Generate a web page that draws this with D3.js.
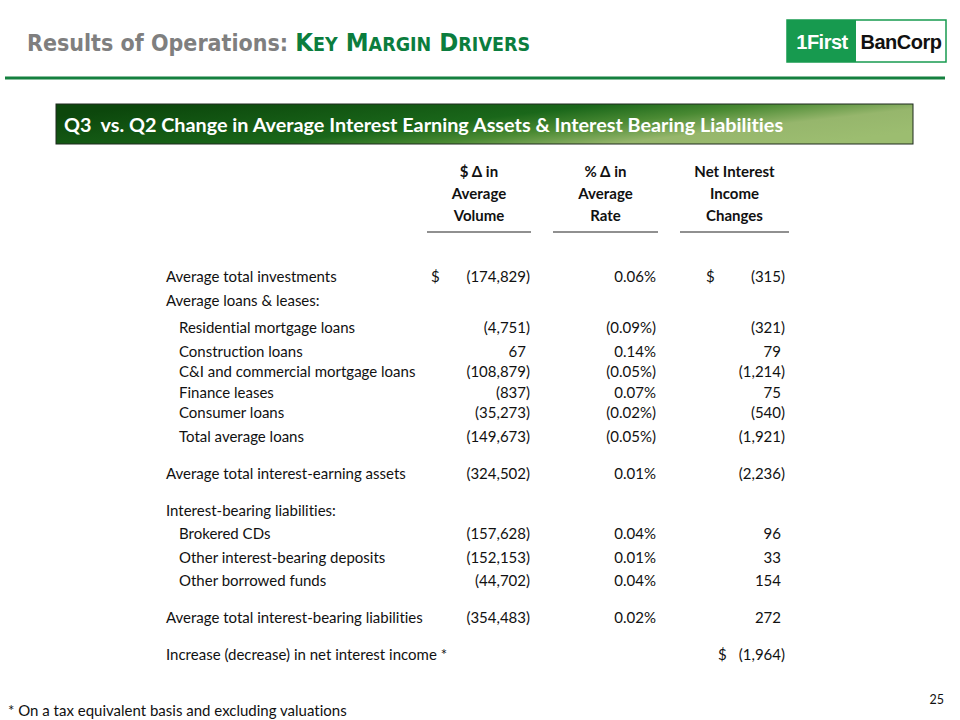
<!DOCTYPE html>
<html><head><meta charset="utf-8">
<script src="https://cdn.jsdelivr.net/npm/d3@7"></script>
<style>body{margin:0;background:#fff}svg{display:block}text{font-variant-ligatures:none;font-feature-settings:"liga" 0;white-space:pre}</style>
</head><body>
<svg id="c" width="960" height="720"></svg>
<script>
// ---- data ----
const titleMain = "Results of Operations: ";
const titleCaps = "Key Margin Drivers";
const bannerText = "Q3  vs. Q2 Change in Average Interest Earning Assets & Interest Bearing Liabilities";
const headers = [
  ["$ \u0394 in", "Average", "Volume"],
  ["% \u0394 in", "Average", "Rate"],
  ["Net Interest", "Income", "Changes"]
];
const labels = [
  "Average total investments", "Average loans & leases:", "Residential mortgage loans",
  "Construction loans", "C&I and commercial mortgage loans", "Finance leases", "Consumer loans",
  "Total average loans", "Average total interest-earning assets", "Interest-bearing liabilities:",
  "Brokered CDs", "Other interest-bearing deposits", "Other borrowed funds",
  "Average total interest-bearing liabilities", "Increase (decrease) in net interest income *"
];
const indented = [0,0,1,1,1,1,1,1,0,0,1,1,1,0,0];
const volume = [-174829, null, -4751, 67, -108879, -837, -35273, -149673, -324502, null, -157628, -152153, -44702, -354483, null];
const rate = [0.06, null, -0.09, 0.14, -0.05, 0.07, -0.02, -0.05, 0.01, null, 0.04, 0.01, 0.04, 0.02, null];
const nii = [-315, null, -321, 79, -1214, 75, -540, -1921, -2236, null, 96, 33, 154, 272, -1964];
const dollarVolume = [1,0,0,0,0,0,0,0,0,0,0,0,0,0,0];
const dollarNii = [1,0,0,0,0,0,0,0,0,0,0,0,0,0,1];
const footnote = "* On a tax equivalent basis and excluding valuations";
const pageNo = "25";

// ---- layout ----
const svg = d3.select("#c");
const body = "Lato, 'Open Sans', sans-serif";
const rowGaps = [0,24,27,24,20,21,20,24,37,37,23,24,23,37,37];
let acc = 0; const yPos = rowGaps.map(g => (acc += g));
const y = i => 282 + yPos[i];

// defs
const defs = svg.append("defs");
const grad = defs.append("linearGradient").attr("id","bg").attr("x1","0").attr("y1","0.3").attr("x2","1").attr("y2","0.7");
[[0,"#0c470c"],[0.45,"#1a671a"],[0.62,"#4a8a33"],[0.8,"#96b66c"],[1,"#9cbd70"]].forEach(([o,c])=>grad.append("stop").attr("offset",o).attr("stop-color",c));

// title
const t = svg.append("text").attr("x",27).attr("y",51).attr("font-family","'DejaVu Sans Condensed', 'DejaVu Sans', sans-serif").attr("font-weight","bold");
t.append("tspan").attr("fill","#7f7f7f").attr("font-size",23).text(titleMain);
titleCaps.split(" ").forEach((w,i)=>{
  t.append("tspan").attr("fill","#0b7d3e").attr("font-size",25.5).text((i?" ":"")+w[0].toUpperCase());
  t.append("tspan").attr("fill","#0b7d3e").attr("font-size",19.5).text(w.slice(1).toUpperCase());
});

// logo
svg.append("rect").attr("x",787).attr("y",20).attr("width",159).attr("height",42).attr("fill","#fff").attr("stroke","#179a4f").attr("stroke-width",1.5);
svg.append("rect").attr("x",787).attr("y",20).attr("width",69).attr("height",42).attr("fill","#179a4f");
svg.append("text").attr("x",822).attr("y",49).attr("text-anchor","middle").attr("font-family","'Liberation Sans', Arial, sans-serif").attr("font-weight","bold").attr("font-size",20).attr("fill","#fff").attr("letter-spacing",-0.5).text("1First");
svg.append("text").attr("x",901).attr("y",49).attr("text-anchor","middle").attr("font-family","'Liberation Sans', Arial, sans-serif").attr("font-weight","bold").attr("font-size",20).attr("fill","#111").attr("letter-spacing",-0.5).text("BanCorp");

// rule
svg.append("line").attr("x1",5).attr("x2",945).attr("y1",78).attr("y2",78).attr("stroke","#15803f").attr("stroke-width",3);

// banner
svg.append("rect").attr("x",56).attr("y",104).attr("width",857).attr("height",40).attr("fill","url(#bg)").attr("stroke","#1e2b1e").attr("stroke-width",1);
svg.append("text").attr("x",64).attr("y",131.5).attr("font-family",body).attr("font-weight","bold").attr("font-size",19.8).attr("fill","#fff").text(bannerText);

// columns
const colX = d3.scaleOrdinal().domain([0,1,2]).range([479,605.5,734.5]);
const colRight = d3.scaleOrdinal().domain([0,1,2]).range([530,656,785]);
const colW = [104,105,109];
const hdr = svg.append("g").attr("font-family",body).attr("font-weight","bold").attr("font-size",15).attr("fill","#111");
headers.forEach((lines,c)=>{
  lines.forEach((l,i)=> hdr.append("text").attr("x",colX(c)).attr("y",177+i*22).attr("text-anchor","middle").text(l));
  hdr.append("line").attr("x1",colX(c)-colW[c]/2).attr("x2",colX(c)+colW[c]/2).attr("y1",232).attr("y2",232).attr("stroke","#222").attr("stroke-width",1.2);
});

const fmtInt = d3.format(",");
const g = svg.append("g").attr("font-family",body).attr("font-size",15).attr("fill","#111");
function num(c, i, s, pad){
  const tx = g.append("text").attr("x",colRight(c)).attr("y",y(i)).attr("text-anchor","end");
  tx.append("tspan").text(s);
  if(pad) tx.append("tspan").attr("fill-opacity",0).text(")");
}
labels.forEach((lab,i)=>{
  g.append("text").attr("x",indented[i]?179:166).attr("y",y(i)).text(lab);
  if(volume[i]!==null){
    const v=volume[i]; num(0,i, v<0?`(${fmtInt(-v)})`:fmtInt(v), v>=0);
  }
  if(rate[i]!==null){
    const r=rate[i]; num(1,i, r<0?`(${(-r).toFixed(2)}%)`:`${r.toFixed(2)}%`, false);
  }
  if(nii[i]!==null){
    const v=nii[i]; num(2,i, v<0?`(${fmtInt(-v)})`:fmtInt(v), v>=0);
  }
  if(dollarVolume[i]) g.append("text").attr("x",431).attr("y",y(i)).text("$");
  if(dollarNii[i]) g.append("text").attr("x",i===labels.length-1?718:706).attr("y",y(i)).text("$");
});

svg.append("text").attr("x",8).attr("y",716).attr("font-family",body).attr("font-size",15).attr("fill","#111").text(footnote);
svg.append("text").attr("x",944).attr("y",704).attr("text-anchor","end").attr("font-family",body).attr("font-size",12.5).attr("fill","#111").text(pageNo);
</script>
</body></html>
